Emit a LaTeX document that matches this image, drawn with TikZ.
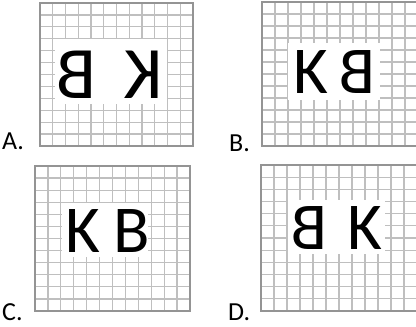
\documentclass[tikz,border=0pt]{standalone}
\usepackage{fontspec}
\usepackage{graphicx}
\setmainfont{Carlito}
\tikzset{
  gridline/.style={draw=black!25, line width=1.3pt},
  gridborder/.style={draw=black!42, line width=1.4pt},
  letter/.style={inner sep=0pt, anchor=base, font=\fontsize{67}{67}\selectfont},
  bigletter/.style={inner sep=0pt, anchor=base, font=\fontsize{74}{74}\selectfont},
  optlabel/.style={inner sep=0pt, anchor=base west, font=\fontsize{26}{26}\selectfont}
}
\newcommand{\mygrid}[4]{% x0,y0,x1,y1 : 12x12 cells
  \foreach \i in {1,...,11}{
    \draw[gridline] ({#1+(#3-#1)*\i/12},#2) -- ({#1+(#3-#1)*\i/12},#4);
    \draw[gridline] (#1,{#2+(#4-#2)*\i/12}) -- (#3,{#2+(#4-#2)*\i/12});
  }
  \draw[gridborder] (#1,#2) rectangle (#3,#4);
}
\begin{document}
\begin{tikzpicture}[x=1pt,y=-1pt]
\useasboundingbox (0,0) rectangle (416,327);
\begin{scope}
\clip (0,0) rectangle (416,327);
% Panel A
\mygrid{40}{3}{193}{146}
\fill[white] (55,39) rectangle (167,104);
\node[bigletter] (a1) at (76,98) {\reflectbox{B}};
\node[bigletter] (a2) at (143.5,98) {\reflectbox{K}};
% Panel B
\mygrid{262}{2}{418}{146}
\fill[white] (288,43) rectangle (380,100);
\node[letter] (b1) at (311,93) {K};
\node[letter] (b2) at (357,93) {\reflectbox{B}};
% Panel C
\mygrid{35}{166}{190}{311}
\fill[white] (62,203) rectangle (148,257);
\node[letter] (c1) at (82.5,252) {K};
\node[letter] (c2) at (131.5,252) {B};
% Panel D
\mygrid{261}{165}{417}{311}
\fill[white] (288,200) rectangle (385,254);
\node[letter] (d1) at (309,249) {\reflectbox{B}};
\node[letter] (d2) at (364.5,249) {K};
\end{scope}
% labels
\node[optlabel] (la) at (2,149) {A.};
\node[optlabel] (lb) at (229,151) {B.};
\node[optlabel] (lc) at (2,320) {C.};
\node[optlabel] (ld) at (228,320) {D.};
\end{tikzpicture}
\end{document}
